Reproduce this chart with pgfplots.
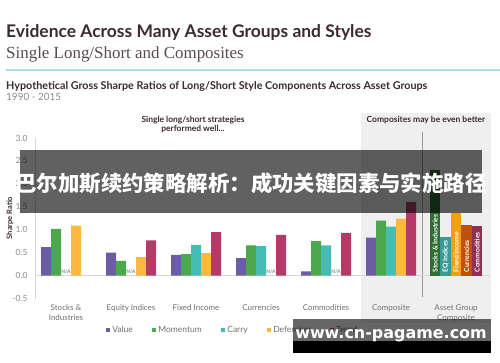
\documentclass[border=0pt]{standalone}
\usepackage{pgfplots}
\pgfplotsset{compat=1.18}
\usepackage{fontspec}
\setmainfont{Lato}
\newfontfamily\seriffont{Liberation Serif}
\newfontfamily\cjk{Noto Sans CJK SC}
\newfontfamily\urlfont{DejaVu Sans}
\definecolor{titlec}{HTML}{3B2A30}
\definecolor{subc}{HTML}{5A4A4E}
\definecolor{rulec}{HTML}{A9DDEA}
\definecolor{ticklab}{HTML}{8C8C8C}
\definecolor{catlab}{HTML}{707070}
\definecolor{axisgray}{HTML}{D6D6D6}
\definecolor{panel}{HTML}{EFEFEF}
\definecolor{cValue}{HTML}{6B5CA5}
\definecolor{cMom}{HTML}{4BA84D}
\definecolor{cCarry}{HTML}{46BDB3}
\definecolor{cDef}{HTML}{FDB83F}
\definecolor{cTrend}{HTML}{B63A67}
\definecolor{aSI}{HTML}{2E6E32}
\definecolor{aEQ}{HTML}{3A9A98}
\definecolor{aFI}{HTML}{F2A00F}
\definecolor{aCur}{HTML}{C0500B}
\definecolor{aCom}{HTML}{8F3055}
\pgfplotsset{sqlegend/.style={legend image code/.code={\fill[##1,draw=none] (0bp,-2.3bp) rectangle (4.6bp,2.3bp);}}}
\begin{document}
\begin{tikzpicture}[x=1bp,y=1bp]
\useasboundingbox (0,0) rectangle (500,362);
\fill[white] (0,0) rectangle (500,362);
% composite panel
\fill[panel] (361,39) rectangle (491,249);
% titles
\node[anchor=base west, inner sep=0, text=titlec, font=\bfseries\fontsize{17.5}{20}\selectfont] at (6,325) {Evidence Across Many Asset Groups and Styles};
\node[anchor=base west, inner sep=0, text=subc, font=\seriffont\fontsize{17}{19}\selectfont] at (6,304) {Single Long/Short and Composites};
\draw[rulec, line width=1.2bp] (6,292) -- (500,292);
\node[anchor=base west, inner sep=0, text=titlec, font=\bfseries\fontsize{10.8}{12}\selectfont] at (6,273) {Hypothetical Gross Sharpe Ratios of Long/Short Style Components Across Asset Groups};
\node[anchor=base west, inner sep=0, text=ticklab, font=\fontsize{10}{12}\selectfont] at (6,262) {1990 - 2015};
\node[anchor=base, inner sep=0, text=titlec, font=\bfseries\fontsize{8.5}{10}\selectfont] at (193,240) {Single long/short strategies};
\node[anchor=base, inner sep=0, text=titlec, font=\bfseries\fontsize{8.5}{10}\selectfont] at (193,231) {performed well...};
\node[anchor=base, inner sep=0, text=titlec, font=\bfseries\fontsize{8.5}{10}\selectfont] at (426,239.5) {Composites may be even better};
\node[rotate=90, inner sep=0, text=titlec, font=\bfseries\fontsize{7.5}{9}\selectfont] at (10,144) {Sharpe Ratio};
% divider
\draw[gray!80, line width=0.7bp] (422.5,65) -- (422.5,230);
\begin{axis}[
  at={(35bp,63.5bp)}, anchor=south west,
  scale only axis, width=455bp, height=160.5bp,
  xmin=-0.477, xmax=6.523, ymin=-0.5, ymax=3.0,
  axis x line=bottom, axis y line=left,
  x axis line style={draw=none},
  y axis line style={draw=axisgray, line width=1bp, -},
  xtick={0,...,6},
  xticklabels={{Stocks \&\\Industries},{Equity Indices},{Fixed Income},{Currencies},{Commodities},{Composite},{Asset Group\\Composite}},
  xticklabel style={align=center, font=\fontsize{8}{10}\selectfont, text=catlab, yshift=-3bp},
  ytick={-0.5,0,0.5,1,1.5,2,2.5,3},
  yticklabel style={font=\fontsize{8.5}{10}\selectfont, text=ticklab, xshift=-4bp, /pgf/number format/fixed, /pgf/number format/fixed zerofill, /pgf/number format/precision=1, /pgf/number format/assume math mode=true},
  major tick length=0pt,
  ybar, bar width=10bp,
  clip=false,
  legend columns=5,
  legend style={at={(axis description cs:0.155,-0.196)}, anchor=west, draw=none, fill=none, inner sep=0pt, font=\fontsize{8.5}{10}\selectfont, text=catlab, /tikz/every even column/.append style={column sep=17bp}},
]
\draw[axisgray, line width=0.8bp] (axis cs:-0.477,0) -- (axis cs:6.523,0);
\addplot[fill=cValue, draw=none, bar shift=-20bp, sqlegend] coordinates {(0,0.62) (1,0.50) (2,0.45) (3,0.38) (4,0.09) (5,0.83)};
\addlegendentry{Value}
\addplot[fill=cMom, draw=none, bar shift=-10bp, sqlegend] coordinates {(0,1.02) (1,0.32) (2,0.47) (3,0.66) (4,0.75) (5,1.20)};
\addlegendentry{Momentum}
\addplot[fill=cCarry, draw=none, bar shift=0bp, sqlegend] coordinates {(2,0.67) (3,0.64) (4,0.66) (5,1.07)};
\addlegendentry{Carry}
\addplot[fill=cDef, draw=none, bar shift=10bp, sqlegend] coordinates {(0,1.09) (1,0.40) (2,0.49) (5,1.24)};
\addlegendentry{Defensive}
\addplot[fill=cTrend, draw=none, bar shift=20bp, sqlegend] coordinates {(1,0.77) (2,0.95) (3,0.89) (4,0.93) (5,1.60)};
\addlegendentry{Trend}
% asset group composite
\addplot[fill=aSI, draw=none, bar shift=-21bp, bar width=10.5bp, forget plot] coordinates {(6,2.31)};
\addplot[fill=aEQ, draw=none, bar shift=-10.5bp, bar width=10.5bp, forget plot] coordinates {(6,0.84)};
\addplot[fill=aFI, draw=none, bar shift=0bp, bar width=10.5bp, forget plot] coordinates {(6,1.36)};
\addplot[fill=aCur, draw=none, bar shift=10.5bp, bar width=10.5bp, forget plot] coordinates {(6,1.11)};
\addplot[fill=aCom, draw=none, bar shift=21bp, bar width=10.5bp, forget plot] coordinates {(6,1.09)};
% N/A labels
\node[anchor=south, inner sep=0, text=ticklab, font=\bfseries\fontsize{5}{6}\selectfont, yshift=1.5bp] at (axis cs:0,0) {N/A};
\node[anchor=south, inner sep=0, text=ticklab, font=\bfseries\fontsize{5}{6}\selectfont, yshift=1.5bp] at (axis cs:1,0) {N/A};
\node[anchor=south, inner sep=0, text=ticklab, font=\bfseries\fontsize{5}{6}\selectfont, xshift=10bp, yshift=1.5bp] at (axis cs:3,0) {N/A};
\node[anchor=south, inner sep=0, text=ticklab, font=\bfseries\fontsize{5}{6}\selectfont, xshift=10bp, yshift=1.5bp] at (axis cs:4,0) {N/A};
% labels in asset group composite bars
\node[xshift=-21bp, yshift=3bp, rotate=90, anchor=west, inner sep=0, text=white, font=\bfseries\fontsize{6.8}{7}\selectfont] at (axis cs:6,0) {Stocks \& Industries};
\node[xshift=-10.5bp, yshift=3bp, rotate=90, anchor=west, inner sep=0, text=white, font=\bfseries\fontsize{6.8}{7}\selectfont] at (axis cs:6,0) {EQ Indices};
\node[xshift=0bp, yshift=3bp, rotate=90, anchor=west, inner sep=0, text=white, font=\bfseries\fontsize{6.8}{7}\selectfont] at (axis cs:6,0) {Fixed Income};
\node[xshift=10.5bp, yshift=3bp, rotate=90, anchor=west, inner sep=0, text=white, font=\bfseries\fontsize{6.8}{7}\selectfont] at (axis cs:6,0) {Currencies};
\node[xshift=21bp, yshift=3bp, rotate=90, anchor=west, inner sep=0, text=white, font=\bfseries\fontsize{6.8}{7}\selectfont] at (axis cs:6,0) {Commodities};
\end{axis}
% overlays
\fill[black, opacity=0.62] (20,149.5) rectangle (482,212);
\node[text=white, inner sep=0, font=\cjk\bfseries\fontsize{21.5}{24}\selectfont] at (251,179) {巴尔加斯续约策略解析：成功关键因素与实施路径};
\fill[black, opacity=0.6] (293,21) rectangle (491,43);
\fill[black] (293,9) rectangle (491,21);
\node[text=white, inner sep=0, font=\urlfont\bfseries\fontsize{16}{18}\selectfont] at (391,26) {www.cn-pagame.com};
\end{tikzpicture}
\end{document}
